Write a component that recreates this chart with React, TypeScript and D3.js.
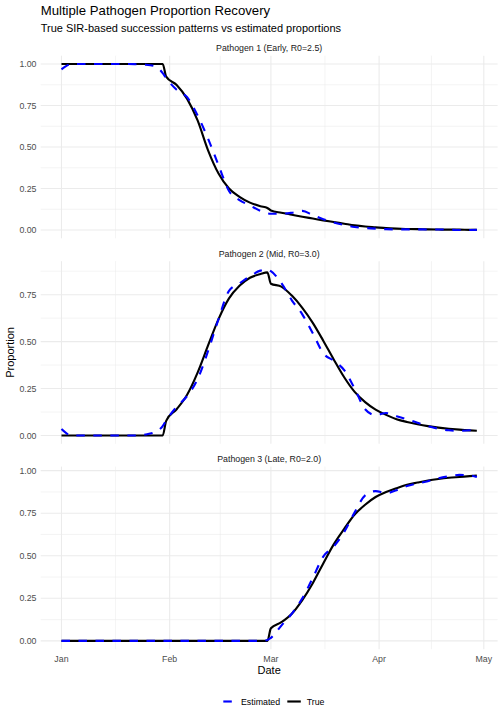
import React from 'react';
import * as d3 from 'd3';

// sample days (offset from 2024-01-01)
const days = [0, 3, 6, 9, 12, 15, 18, 21, 24, 27, 29, 30, 33, 36, 39, 42, 45, 48, 51, 54, 57, 59, 60,
    63, 66, 69, 72, 75, 78, 81, 84, 87, 90, 93, 96, 99, 102, 105, 108, 111, 114, 117, 119];

const p1True = [1, 1, 1, 1, 1, 1, 1, 1, 1, 1, 1, 0.924, 0.873, 0.79, 0.66, 0.48, 0.34, 0.25, 0.2, 0.165, 0.143, 0.133, 0.118,
    0.104, 0.092, 0.08, 0.069, 0.058, 0.048, 0.038, 0.028, 0.021, 0.016, 0.011, 0.008, 0.006, 0.005, 0.004, 0.003, 0.002, 0.002, 0.001, 0.001];
const p1Est = [0.968, 1, 1, 1, 1, 1, 1, 0.999, 0.996, 0.985, 0.945, 0.915, 0.845, 0.8, 0.69, 0.55, 0.39, 0.235, 0.18, 0.148, 0.115, 0.1, 0.098,
    0.098, 0.104, 0.115, 0.09, 0.065, 0.045, 0.03, 0.018, 0.012, 0.008, 0.005, 0.004, 0.004, 0.004, 0.003, 0.003, 0.002, 0, 0, 0.001];

const p2True = [0, 0, 0, 0, 0, 0, 0, 0, 0, 0, 0, 0.078, 0.14, 0.217, 0.335, 0.48, 0.62, 0.73, 0.797, 0.84, 0.86, 0.869, 0.808,
    0.793, 0.745, 0.68, 0.6, 0.505, 0.405, 0.31, 0.232, 0.178, 0.138, 0.11, 0.087, 0.072, 0.06, 0.05, 0.042, 0.036, 0.031, 0.027, 0.025];
const p2Est = [0.035, 0, 0, 0, 0, 0, 0, 0, 0.005, 0.02, 0.05, 0.08, 0.153, 0.21, 0.3, 0.45, 0.62, 0.77, 0.81, 0.848, 0.878, 0.884, 0.875,
    0.812, 0.72, 0.645, 0.545, 0.438, 0.398, 0.348, 0.25, 0.14, 0.108, 0.12, 0.103, 0.086, 0.068, 0.05, 0.036, 0.028, 0.025, 0.028, 0.035];

const p3True = [0, 0, 0, 0, 0, 0, 0, 0, 0, 0, 0, 0, 0, 0, 0, 0, 0, 0, 0, 0, 0, 0, 0.074,
    0.11, 0.16, 0.24, 0.339, 0.455, 0.567, 0.658, 0.742, 0.8, 0.845, 0.875, 0.897, 0.917, 0.93, 0.942, 0.951, 0.958, 0.963, 0.968, 0.971];
const p3Est = [0, 0, 0, 0, 0, 0, 0, 0, 0, 0, 0, 0, 0, 0, 0, 0, 0, 0, 0, 0, 0, 0.005, 0.018,
    0.09, 0.16, 0.25, 0.37, 0.495, 0.555, 0.64, 0.755, 0.855, 0.88, 0.868, 0.885, 0.91, 0.925, 0.938, 0.955, 0.967, 0.975, 0.972, 0.962];

const facetTitles = ['Pathogen 1 (Early, R0=2.5)', 'Pathogen 2 (Mid, R0=3.0)', 'Pathogen 3 (Late, R0=2.0)'];
const yBreaks = [0, 0.25, 0.5, 0.75, 1];

const FONT = '"Liberation Sans", Arial, Helvetica, sans-serif';
const W = 504;
const H = 720;

const toDate = (d: number) => new Date(Date.UTC(2024, 0, 1) + d * 864e5);

const App: React.FC = () => {
    const left = 40.7;
    const right = 497.6;
    const panelH = 182.6;
    const tops = [55.7, 261.2, 466.6];

    const span = days[days.length - 1] - days[0];
    const x = d3.scaleUtc()
        .domain([toDate(days[0] - span * 0.05), toDate(days[days.length - 1] + span * 0.05)])
        .range([left, right]);

    const months = x.ticks(d3.utcMonth.every(1) as any);
    const monthMinor = months.slice(0, -1).map((m, i) => new Date((+m + +months[i + 1]) / 2));

    const panels = [
        { title: facetTitles[0], truth: p1True, est: p1Est },
        { title: facetTitles[1], truth: p2True, est: p2Est },
        { title: facetTitles[2], truth: p3True, est: p3Est },
    ];

    return (
        <svg width={W} height={H} style={{ position: 'absolute', left: 0, top: 0, background: '#fff' }}
            fontFamily={FONT}>
            <text x={left} y={15} fontSize={13.2} fill="#000">Multiple Pathogen Proportion Recovery</text>
            <text x={left} y={31.7} fontSize={11} fill="#000">True SIR-based succession patterns vs estimated proportions</text>

            {panels.map((p, i) => {
                const top = tops[i];
                const all = [...p.truth, ...p.est];
                const lo = d3.min(all)!;
                const hi = d3.max(all)!;
                const pad = (hi - lo) * 0.05;
                const y = d3.scaleLinear().domain([lo - pad, hi + pad]).range([top + panelH, top]);
                const [d0, d1] = y.domain();
                const major = yBreaks.filter(b => b >= d0 && b <= d1);
                const ext = [yBreaks[0] - 0.25, ...yBreaks, 1.25];
                const minor = ext.slice(0, -1).map((b, k) => (b + ext[k + 1]) / 2).filter(b => b >= d0 && b <= d1);

                const line = d3.line<number>()
                    .x((_, k) => x(toDate(days[k])))
                    .y(v => y(v))
                    .curve(d3.curveMonotoneX);

                return (
                    <g key={i}>
                        {/* grid */}
                        {minor.map(b => (
                            <line key={'ym' + b} x1={left} x2={right} y1={y(b)} y2={y(b)} stroke="#EBEBEB" strokeWidth={0.53} />
                        ))}
                        {monthMinor.map(m => (
                            <line key={'xm' + +m} x1={x(m)} x2={x(m)} y1={top} y2={top + panelH} stroke="#EBEBEB" strokeWidth={0.53} />
                        ))}
                        {major.map(b => (
                            <line key={'y' + b} x1={left} x2={right} y1={y(b)} y2={y(b)} stroke="#EBEBEB" strokeWidth={1.07} />
                        ))}
                        {months.map(m => (
                            <line key={'x' + +m} x1={x(m)} x2={x(m)} y1={top} y2={top + panelH} stroke="#EBEBEB" strokeWidth={1.07} />
                        ))}
                        {/* y tick labels */}
                        {major.map(b => (
                            <text key={'yl' + b} x={36.5} y={y(b)} dy="0.35em" textAnchor="end" fontSize={8.8} fill="#4D4D4D">
                                {d3.format('.2f')(b)}
                            </text>
                        ))}
                        {/* strip */}
                        <text x={(left + right) / 2} y={top - 4.7} textAnchor="middle" fontSize={8.8} fill="#1A1A1A">{p.title}</text>
                        {/* series */}
                        <path d={line(p.truth)!} fill="none" stroke="#000" strokeWidth={2.13} strokeLinejoin="round" />
                        <path d={line(p.est)!} fill="none" stroke="#0000FF" strokeWidth={2.13} strokeDasharray="8.5,8.5" />
                    </g>
                );
            })}

            {/* x axis labels on bottom panel */}
            {months.map(m => (
                <text key={'xl' + +m} x={x(m)} y={tops[2] + panelH + 12.8} textAnchor="middle" fontSize={8.8} fill="#4D4D4D">
                    {d3.utcFormat('%b')(m)}
                </text>
            ))}
            <text x={(left + right) / 2} y={674} textAnchor="middle" fontSize={11} fill="#000">Date</text>
            <text transform={`translate(14, ${(tops[0] + tops[2] + panelH) / 2}) rotate(-90)`} textAnchor="middle" fontSize={11} fill="#000">Proportion</text>

            {/* legend */}
            <g transform="translate(0, 701.5)">
                <line x1={223.3} x2={236.8} y1={0} y2={0} stroke="#0000FF" strokeWidth={2.13} strokeDasharray="8.5,8.5" />
                <text x={241} y={0} dy="0.35em" fontSize={8.8} fill="#000">Estimated</text>
                <line x1={287.3} x2={300.8} y1={0} y2={0} stroke="#000" strokeWidth={2.13} />
                <text x={306.7} y={0} dy="0.35em" fontSize={8.8} fill="#000">True</text>
            </g>
        </svg>
    );
};

export default App;
